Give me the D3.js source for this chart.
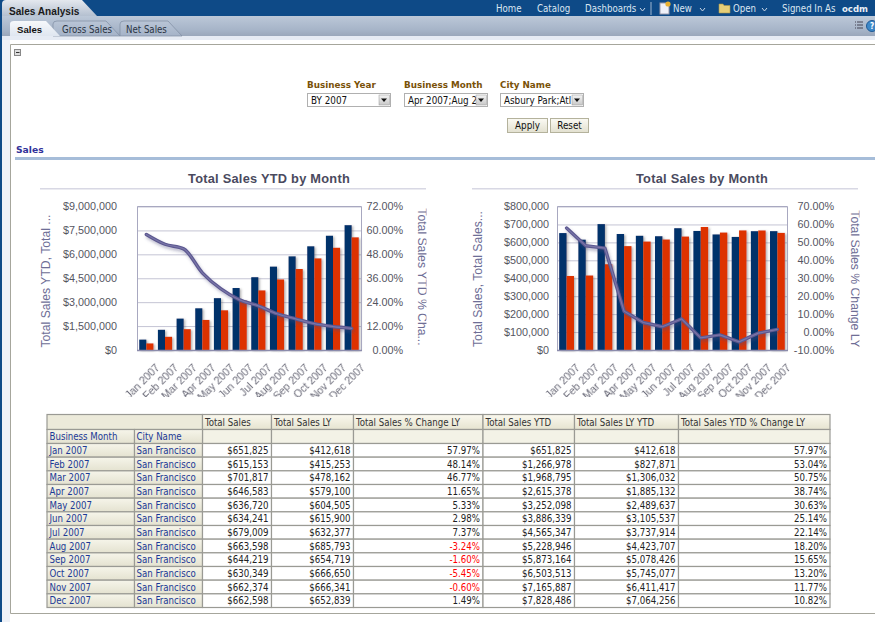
<!DOCTYPE html>
<html><head><meta charset="utf-8">
<script src="https://cdn.jsdelivr.net/npm/d3@7"></script>
<style>html,body{margin:0;padding:0;background:#fff;overflow:hidden}svg{display:block}</style>
</head><body><div id="c"></div>
<script>
// ---------- data ----------
const months = ["Jan 2007","Feb 2007","Mar 2007","Apr 2007","May 2007","Jun 2007","Jul 2007","Aug 2007","Sep 2007","Oct 2007","Nov 2007","Dec 2007"];
const city = "San Francisco";
const totalSales   = [651825,615153,701817,646583,636720,634241,679009,663598,644219,630349,662374,662598];
const totalSalesLY = [412618,415253,478162,579100,604505,615900,632377,685793,654719,666650,666341,652839];
const pctChange    = [57.97,48.14,46.77,11.65,5.33,2.98,7.37,-3.24,-1.60,-5.45,-0.60,1.49];
const salesYTD     = [651825,1266978,1968795,2615378,3252098,3886339,4565347,5228946,5873164,6503513,7165887,7828486];
const salesLYYTD   = [412618,827871,1306032,1885132,2489637,3105537,3737914,4423707,5078426,5745077,6411417,7064256];
const ytdPct       = [57.97,53.04,50.75,38.74,30.63,25.14,22.14,18.20,15.65,13.20,11.77,10.82];
const tableHeaders = ["Total Sales","Total Sales LY","Total Sales % Change LY","Total Sales YTD","Total Sales LY YTD","Total Sales YTD % Change LY"];
const navLabels = ["Home","Catalog","Dashboards","New","Open","Signed In As"];
const tabLabels = ["Sales","Gross Sales","Net Sales"];
const promptLabels = ["Business Year","Business Month","City Name"];
const promptValues = ["BY 2007","Apr 2007;Aug 2","Asbury Park;Atl"];

const W=875,H=622;
const svg=d3.select("#c").append("svg").attr("width",W).attr("height",H);
const defs=svg.append("defs");
function grad(id,stops){const g=defs.append("linearGradient").attr("id",id).attr("x1",0).attr("x2",0).attr("y1",0).attr("y2",1);
  stops.forEach(([o,c])=>g.append("stop").attr("offset",o).attr("stop-color",c));}
grad("bar2",[[0,"#bcc8d8"],[.7,"#a6b4c8"],[1,"#9aa7bb"]]);
grad("tabOn",[[0,"#f6f8fb"],[1,"#dfe6f0"]]);
grad("tabOff",[[0,"#b9c5d6"],[1,"#a5b3c8"]]);
grad("topTab",[[0,"#e4e8ee"],[1,"#b4c0d0"]]);
grad("th",[[0,"#faf8ee"],[1,"#e6e4d0"]]);
grad("rh",[[0,"#f6f5ea"],[1,"#e4e2d0"]]);
grad("btn",[[0,"#fbfaf4"],[1,"#e2e0cf"]]);
grad("sel",[[0,"#f4f4f4"],[1,"#c8c8c8"]]);
const fs=defs.append("filter").attr("id","shadow").attr("x","-30%").attr("y","-10%").attr("width","170%").attr("height","125%");
fs.append("feDropShadow").attr("dx",1.5).attr("dy",1).attr("stdDeviation",1).attr("flood-color","#555").attr("flood-opacity",.45);
const fl=defs.append("filter").attr("id","lshadow").attr("x","-10%").attr("y","-20%").attr("width","120%").attr("height","150%");
fl.append("feDropShadow").attr("dx",1.5).attr("dy",2.5).attr("stdDeviation",1.8).attr("flood-color","#4a4a7a").attr("flood-opacity",.4);
const fb=defs.append("filter").attr("id","soft");fb.append("feGaussianBlur").attr("stdDeviation",.3);
defs.append("clipPath").attr("id","catClip").append("rect").attr("x",0).attr("y",352).attr("width",W).attr("height",45);
defs.append("clipPath").attr("id","ttlClip1").append("rect").attr("x",400).attr("y",190).attr("width",26.5).attr("height",180);
defs.append("clipPath").attr("id","ttlClip2").append("rect").attr("x",830).attr("y",190).attr("width",29.5).attr("height",180);

const TAH="'DejaVu Sans Condensed','DejaVu Sans',sans-serif", ARI="'Liberation Sans',Arial,sans-serif";
function txt(p,x,y,s,o={}){return p.append("text").attr("x",x).attr("y",y).text(s)
  .attr("font-family",o.f||TAH).attr("font-size",o.s||10).attr("font-weight",o.w||400)
  .attr("fill",o.c||"#222").attr("text-anchor",o.a||"start");}

// ---------- page chrome ----------
const chrome=svg.append("g");
chrome.append("rect").attr("width",W).attr("height",16).attr("fill","#0e4a87");
chrome.append("rect").attr("y",16).attr("width",W).attr("height",20).attr("fill","url(#bar2)");
chrome.append("rect").attr("y",36).attr("width",W).attr("height",4).attr("fill","#e6ebf4");
chrome.append("rect").attr("y",16).attr("width",2).attr("height",H-16).attr("fill","#0e4a87");
chrome.append("rect").attr("x",2).attr("y",40).attr("width",8).attr("height",H-40).attr("fill","#eef1f7");
chrome.append("path").attr("d","M2,16V4Q2,0 6,0H82L97,16Z").attr("fill","url(#topTab)");
txt(chrome,9,14.5,"Sales Analysis",{s:10.1,w:700,c:"#1a1a1a",f:ARI});
// tabs
[[120,182,2],[53,120,1],[10,60,0]].forEach(([a,b,i])=>{
  chrome.append("path").attr("d",`M${a},36V24Q${a},21 ${a+4},21H${b-14}L${b},36Z`)
    .attr("fill",i==0?"url(#tabOn)":"url(#tabOff)").attr("stroke",i==0?"none":"#7e8ca2").attr("stroke-width",.7);
  txt(chrome,[17,62,126][i],32.5,tabLabels[i],{s:i==0?9.6:9.6,w:i==0?700:400,c:i==0?"#111":"#2a3444",f:i==0?ARI:TAH});
});
// top navigation
const navX=[496,537,585,673,733,782];
navLabels.forEach((t,i)=>txt(chrome,navX[i],12,t,{s:9.6,c:"#dbe6f2"}));
txt(chrome,842,12,"ocdm",{s:9.5,w:700,c:"#e8eef6"});
[[640,8],[700,8],[762,8]].forEach(([x,y])=>chrome.append("path").attr("d",`M${x},${y}l2.5,3l2.5,-3`).attr("fill","none").attr("stroke","#c8d6e6").attr("stroke-width",1));
chrome.append("line").attr("x1",651).attr("x2",651).attr("y1",2).attr("y2",15).attr("stroke","#9fb6d0");
chrome.append("rect").attr("x",660).attr("y",3).attr("width",9).attr("height",11).attr("fill","#eef0f8").attr("stroke","#99a");
chrome.append("circle").attr("cx",668).attr("cy",4).attr("r",2.6).attr("fill","#e8b030");
chrome.append("path").attr("d","M719,4h4l1,1.5h6v7.5h-11z").attr("fill","#e6cf78").attr("stroke","#a8934a").attr("stroke-width",.6);
chrome.append("path").attr("d","M855,22h8M855,25h8M855,28h8").attr("stroke","#445").attr("stroke-width",1).attr("stroke-dasharray","1 1 6 0");
chrome.append("circle").attr("cx",872).attr("cy",26).attr("r",5.5).attr("fill","#3d88c8").attr("stroke","#1f5a96");
txt(chrome,872,29,"?",{s:8,w:700,c:"#fff",a:"middle"});

// content frame
chrome.append("rect").attr("x",10).attr("y",40).attr("width",W).attr("height",H-40).attr("fill","#fff");
chrome.append("path").attr("d",`M875,44.5H10.5V613.5H875`).attr("fill","none").attr("stroke","#a6a69c").attr("stroke-width",1);
chrome.append("rect").attr("x",14.5).attr("y",49.5).attr("width",6).attr("height",6).attr("fill","#ddd").attr("stroke","#888");
chrome.append("line").attr("x1",16).attr("x2",19.5).attr("y1",52.5).attr("y2",52.5).attr("stroke","#333");

// prompts
const boxes=[[307,83],[404,83],[500,83]];
boxes.forEach(([x,w],i)=>{
  txt(chrome,x,88,promptLabels[i],{s:8.8,w:700,c:"#7a5208",f:"'DejaVu Sans',sans-serif"});
  chrome.append("rect").attr("x",x+.5).attr("y",93.5).attr("width",w).attr("height",13).attr("fill","#fff").attr("stroke","#b0b0b0");
  txt(chrome,x+4,104,promptValues[i],{s:9.8,c:"#111"});
  chrome.append("rect").attr("x",x+w-11).attr("y",94.5).attr("width",11).attr("height",11.5).attr("fill","#fff");
  chrome.append("rect").attr("x",x+w-11).attr("y",95).attr("width",10.5).attr("height",10).attr("fill","url(#sel)").attr("stroke","#999").attr("stroke-width",.5);
  chrome.append("path").attr("d",`M${x+w-9},98.5h6l-3,3.5z`).attr("fill","#111");
});
[[507,41,"Apply"],[550,39,"Reset"]].forEach(([x,w,t])=>{
  chrome.append("rect").attr("x",x+.5).attr("y",118.5).attr("width",w-1).attr("height",14).attr("fill","url(#btn)").attr("stroke","#b4b29c");
  txt(chrome,x+w/2,129,t,{s:9.8,c:"#111",a:"middle"});
});
txt(chrome,16,153,"Sales",{s:9.2,w:700,c:"#32329a",f:"'DejaVu Sans',sans-serif"});
chrome.append("rect").attr("x",15).attr("y",157).attr("width",W).attr("height",3).attr("fill","#a6bdd9");

// ---------- charts ----------
function chart(o){
  const g=svg.append("g");
  const x=d3.scaleBand().domain(months).range([o.x0,o.x1]).paddingInner(0).paddingOuter(0);
  const y=d3.scaleLinear().domain(o.yDomain).range([350,206.5]);
  const y2=d3.scaleLinear().domain(o.y2Domain).range([350,206.5]);
  txt(g,o.titleX,183,o.title,{f:ARI,s:12.8,w:700,c:"#4a4a5e",a:"middle"}).attr("letter-spacing",.25);
  g.append("rect").attr("x",o.lineX).attr("y",188).attr("width",386).attr("height",1.5).attr("fill","#d8d8e4");
  // gridlines
  g.append("g").attr("transform",`translate(${o.x0},0)`)
    .selectAll("line").data(o.yTicks).join("line").attr("x1",0).attr("x2",o.x1-o.x0)
    .attr("y1",d=>y(d)+.5).attr("y2",d=>y(d)+.5).attr("stroke","#c4c4d4").attr("stroke-width",1);
  // bars
  const bw=o.bw, series=[[o.a,"#04306b",-bw],[o.b,"#dd3300",0]];
  series.forEach(([vals,c,off])=>{
    g.append("g").attr("filter","url(#shadow)").selectAll("rect").data(months).join("rect")
      .attr("x",d=>x(d)+x.bandwidth()/2+off).attr("width",bw)
      .attr("y",(d,i)=>y(vals[i])).attr("height",(d,i)=>350-y(vals[i])).attr("fill",c);
  });
  // frame
  g.append("path").attr("d",`M${o.x0+.5},350V206.5H${o.x1+.5}V350`).attr("fill","none").attr("stroke","#a8a8c0");
  g.append("line").attr("x1",o.x0).attr("x2",o.x1+1).attr("y1",350.5).attr("y2",350.5).attr("stroke","#8c8cac").attr("stroke-width",1.3);
  // line
  const line=d3.line().x(d=>x(d)+x.bandwidth()/2).y(d=>y2(o.l[months.indexOf(d)])).curve(o.curve);
  g.append("path").datum(months).attr("d",line).attr("fill","none").attr("stroke","#5c5890").attr("stroke-width",3.4)
    .attr("stroke-linejoin","round").attr("stroke-linecap","round").attr("filter","url(#lshadow)");
  g.append("path").datum(months).attr("d",line).attr("fill","none").attr("stroke","#7a76a8").attr("stroke-width",1.2).attr("stroke-linecap","round");
  // axes
  const a1=g.append("g").attr("transform",`translate(${o.x0},0)`).call(d3.axisLeft(y).tickValues(o.yTicks).tickFormat(d3.format("$,.0f")).tickSize(0).tickPadding(o.x0-o.lblL));
  const a2=g.append("g").attr("transform",`translate(${o.x1},0)`).call(d3.axisRight(y2).tickValues(o.y2Ticks).tickFormat(d=>d.toFixed(2)+"%").tickSize(0).tickPadding(o.lblR-o.x1));
  [a1,a2].forEach(a=>{a.select(".domain").remove();a.selectAll("text").attr("font-family",ARI).attr("font-size",10.8).attr("fill","#55555f");});
  a2.selectAll("text").attr("text-anchor","end").attr("x",o.lblR+o.r2W-o.x1);
  const a3=g.append("g").attr("clip-path","url(#catClip)").append("g").attr("transform","translate(0,350)").call(d3.axisBottom(x).tickSize(0).tickFormat(d=>d));
  a3.select(".domain").remove();
  a3.selectAll("text").attr("font-family",ARI).attr("font-size",10.6).attr("fill","#6a6a78").attr("text-anchor","end")
    .attr("dy",0).attr("y",0).attr("transform",`translate(14,18.5) rotate(-45)`).attr("filter","url(#soft)");
  // axis titles
  g.append("text").attr("transform",`translate(${o.tLX},${o.tLY}) rotate(-90)`).attr("text-anchor","middle")
    .attr("font-family",ARI).attr("font-size",12.2).attr("fill","#6e6e96").text(o.tL);
  g.append("g").attr("clip-path",`url(#${o.clip})`).append("text").attr("transform",`translate(${o.tRX},${o.tRY}) rotate(90)`).attr("text-anchor","middle")
    .attr("font-family",ARI).attr("font-size",12.2).attr("fill","#6e6e96").text(o.tR);
}
chart({x0:137,x1:361,bw:7.1,title:"Total Sales YTD by Month",titleX:269,lineX:40,a:salesYTD,b:salesLYYTD,l:ytdPct,
  yDomain:[0,9000000],yTicks:[0,1500000,3000000,4500000,6000000,7500000,9000000],
  y2Domain:[0,72],y2Ticks:[0,12,24,36,48,60,72],lblL:117,lblR:367,r2W:36,curve:d3.curveMonotoneX,clip:"ttlClip1",
  tL:"Total Sales YTD, Total ...",tLX:50,tLY:281,tR:"Total Sales YTD % Cha...",tRX:418,tRY:277});
chart({x0:557,x1:787,bw:7.4,title:"Total Sales by Month",titleX:702,lineX:472,a:totalSales,b:totalSalesLY,l:pctChange,
  yDomain:[0,800000],yTicks:d3.range(0,800001,100000),
  y2Domain:[-10,70],y2Ticks:d3.range(-10,71,10),lblL:549,lblR:793,r2W:41,curve:d3.curveLinear,clip:"ttlClip2",
  tL:"Total Sales, Total Sales...",tLX:482,tLY:279,tR:"Total Sales % Change LY",tRX:851,tRY:279});

// ---------- table ----------
const colX=[47,134.5,202.5,271.5,353.5,483,574.5,678.5,830];
const top0=414.5, rowHdrY=429.5, rowsY=443.5;
const rowY=d3.scaleBand().domain(months).range([rowsY,607.5]);
const t=svg.append("g");
const stroke="#9a9a94";
const cell=(x,y,w,h,fill)=>t.append("rect").attr("x",x).attr("y",y).attr("width",w).attr("height",h).attr("fill",fill).attr("stroke",stroke).attr("stroke-width",1.2);
const FS=9.6;
cell(colX[0],top0,colX[2]-colX[0],rowHdrY-top0,"#eceada");
tableHeaders.forEach((h,i)=>{
  cell(colX[i+2],top0,colX[i+3]-colX[i+2],rowHdrY-top0,"url(#th)");
  cell(colX[i+2],rowHdrY,colX[i+3]-colX[i+2],rowsY-rowHdrY,"#f3f2e6");
  txt(t,colX[i+2]+2.5,426,h,{s:FS,c:"#333"});
});
cell(colX[0],rowHdrY,colX[1]-colX[0],rowsY-rowHdrY,"url(#rh)");
cell(colX[1],rowHdrY,colX[2]-colX[1],rowsY-rowHdrY,"url(#rh)");
txt(t,colX[0]+2.5,440,"Business Month",{s:FS,c:"#1c3a96"});
txt(t,colX[1]+2,440,"City Name",{s:FS,c:"#1c3a96"});
const money=d3.format("$,.0f"), pc=d=>d.toFixed(2)+"%";
const cols=[[totalSales,money],[totalSalesLY,money],[pctChange,pc],[salesYTD,money],[salesLYYTD,money],[ytdPct,pc]];
months.forEach((m,r)=>{
  const y=rowY(m),h=rowY.bandwidth(),base=y+10.6;
  cell(colX[0],y,colX[1]-colX[0],h,"url(#rh)");
  cell(colX[1],y,colX[2]-colX[1],h,"url(#rh)");
  txt(t,colX[0]+2.5,base,m,{s:FS,c:"#1c3a96"});
  txt(t,colX[1]+2,base,city,{s:FS,c:"#1c3a96"});
  cols.forEach(([v,f],i)=>{
    cell(colX[i+2],y,colX[i+3]-colX[i+2],h,"#fff");
    txt(t,colX[i+3]-3,base,f(v[r]),{s:FS,a:"end",c:v[r]<0?"#ff0000":"#222"});
  });
});
</script></body></html>
